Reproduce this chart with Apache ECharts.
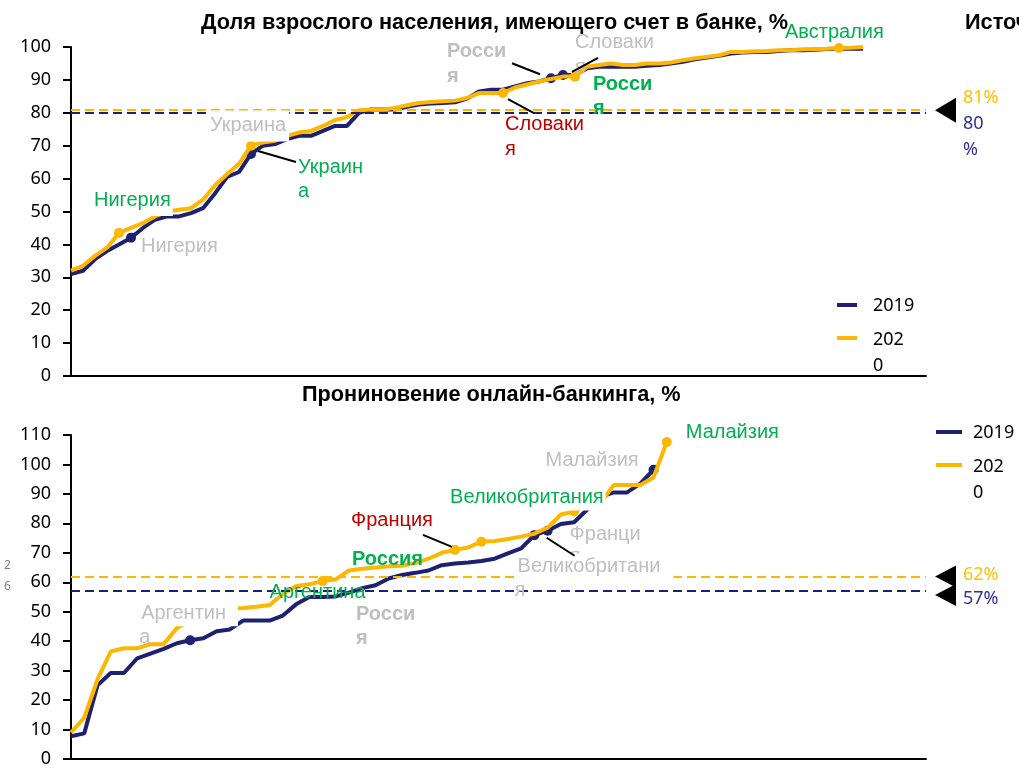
<!DOCTYPE html>
<html>
<head>
<meta charset="utf-8">
<script src="https://cdn.jsdelivr.net/npm/echarts@6/dist/echarts.min.js"></script>
<style>
  html, body { margin: 0; padding: 0; background: #fff; }
  #chart { width: 1019px; height: 768px; }
</style>
</head>
<body>
<div id="chart"></div>
<script>
// доля взрослых со счётом в банке, страны отсортированы по возрастанию
var accounts2019 = [31, 32, 35.5, 38, 40, 42, 45, 47.5, 48.5, 48.5, 49.5, 51, 55.5, 60.5, 62, 67.5,
  70, 70.5, 72, 73, 73, 74.5, 76, 76, 80, 81, 81, 81, 81.8, 82.5, 82.8, 83, 83.2, 84.3, 86.5, 87,
  87, 88, 89, 89.5, 90.5, 91.5, 91.5, 93.5, 94, 94, 94, 94, 94.3, 94.5, 95, 95.5, 96.3, 96.8, 97.3,
  98, 98.3, 98.5, 98.5, 98.8, 99, 99, 99.2, 99.4, 99.5, 99.5, 99.5]
var accounts2020 = [32, 33.5, 36.5, 39, 43.5, 45, 46.5, 48.5, 50, 50.5, 51, 53.6, 58, 61.3, 64.5, 70,
  71, 71.5, 73, 74, 74.5, 76, 77.8, 78.7, 80.8, 81, 81, 81.5, 82.3, 83, 83.3, 83.5, 83.7, 84.5, 86, 86,
  86, 87.7, 88.6, 89.5, 90.3, 91, 91, 94, 94.5, 95, 94.5, 94.5, 95, 95, 95.3, 96, 96.6, 97, 97.5,
  98.5, 98.5, 98.7, 98.8, 99, 99, 99.3, 99.4, 99.5, 99.7, 99.8, 100]
var accountsAvg = { '2019': 80, '2020': 81 }

// проникновение онлайн-банкинга
var online2019 = [7.7, 8.7, 25, 29.2, 29.2, 34.2, 35.8, 37.4, 39.3, 40.3, 41, 43.4, 44, 47, 47, 47,
  48.7, 52.5, 55, 55, 55.2, 56.5, 58, 59, 61.3, 62.5, 63.2, 64, 65.8, 66.4, 66.7, 67.2, 68, 69.8,
  71.5, 76, 77.5, 79.8, 80.4, 84.7, 89, 90.5, 90.5, 93.5, 98.2]
var online2020 = [9, 14, 27, 36.5, 37.6, 37.6, 39, 39, 44.5, 47, 49, 50, 51, 51.3, 51.7, 52.3, 56,
  58.7, 59.3, 60.4, 61, 64, 64.6, 65, 65.4, 65.6, 66.5, 68, 70, 71, 71.8, 73.8, 74, 74.7, 75.5, 76.5,
  78.5, 83, 84, 86.5, 87, 93, 93, 93, 95.6, 107.6]
var onlineAvg = { '2019': 57, '2020': 62 }

// точки, отмеченные кружками (индексы стран)
var accountDots2019 = [5, 15, 40, 41]
var accountDots2020 = [4, 15, 36, 42, 64]
var onlineDots2019 = [9, 35, 36, 44]
var onlineDots2020 = [19, 29, 31, 38, 45]

var NAVY = '#1E2170'
var ORANGE = '#FFB600'
var GREEN = '#00B050'
var GRAY = '#BFBFBF'
var RED = '#C00000'
var TXT_FONT = 'Liberation Sans, Arial, sans-serif'
var NUM_FONT = 'Noto Sans, sans-serif'

var chart = echarts.init(document.getElementById('chart'))

function pairs(arr) {
  return arr.map(function(v, i) { return [i, v] })
}

function lineSeries(name, data, color, g, dots, avg, z) {
  return {
    name: name,
    type: 'line',
    xAxisIndex: g,
    yAxisIndex: g,
    data: pairs(data),
    symbol: 'circle',
    showAllSymbol: true,
    symbolSize: function(val, p) { return dots.indexOf(p.dataIndex) >= 0 ? 10 : 0 },
    itemStyle: { color: color },
    lineStyle: { color: color, width: 4 },
    z: z,
    silent: true,
    animation: false,
    markLine: {
      silent: true,
      symbol: 'none',
      label: { show: false },
      lineStyle: { color: color, type: [9, 5], width: 2 },
      data: [{ yAxis: avg }]
    }
  }
}

function yAx(g, max) {
  return {
    gridIndex: g, type: 'value', min: 0, max: max, interval: 10,
    axisLine: { show: true, lineStyle: { color: '#000', width: 2 } },
    axisTick: { show: true, length: 8, lineStyle: { color: '#000', width: 2 } },
    splitLine: { show: false },
    axisLabel: { color: '#000', fontSize: 18, fontFamily: NUM_FONT, margin: 20 }
  }
}

function xAx(g, max) {
  return {
    gridIndex: g, type: 'value', min: 0, max: max,
    axisLine: { show: true, onZero: false, lineStyle: { color: '#000', width: 2 } },
    axisTick: { show: false }, axisLabel: { show: false }, splitLine: { show: false }
  }
}

var titleStyle = { fontFamily: TXT_FONT, fontWeight: 'bold', fontSize: 21.7, color: '#000' }

chart.setOption({
  backgroundColor: '#fff',
  animation: false,
  title: [
    { text: 'Доля взрослого населения, имеющего счет в банке, %', left: 196, top: 7, textStyle: titleStyle },
    { text: 'Источник', left: 960, top: 7, textStyle: titleStyle },
    { text: 'Прониновение онлайн-банкинга, %', left: 297, top: 379, textStyle: titleStyle }
  ],
  grid: [
    { left: 71, right: 93, top: 47, height: 329 },
    { left: 71, right: 93, top: 435, height: 328 }
  ],
  xAxis: [xAx(0, 71.25), xAx(1, 64.58)],
  yAxis: [yAx(0, 100), yAx(1, 110)],
  series: [
    lineSeries('2019', accounts2019, NAVY, 0, accountDots2019, accountsAvg['2019'], 2),
    lineSeries('2020', accounts2020, ORANGE, 0, accountDots2020, accountsAvg['2020'], 3),
    lineSeries('2019', online2019, NAVY, 1, onlineDots2019, onlineAvg['2019'], 2),
    lineSeries('2020', online2020, ORANGE, 1, onlineDots2020, onlineAvg['2020'], 3)
  ]
})

// подписи стран, привязанные к точкам
var notes = [
  { g: 0, d: accounts2020, i: 4, lines: ['Нигерия'], c: GREEN, dx: -27, dy: -32, bg: [4, 2, 6, 2] },
  { g: 0, d: accounts2019, i: 5, lines: ['Нигерия'], c: GRAY, dx: 10, dy: 9 },
  { g: 0, d: accounts2019, i: 15, lines: ['Украина'], c: GRAY, dx: -43, dy: -28, bg: [3, 3, 8, 2] },
  { g: 0, d: accounts2019, i: 15, lines: ['Украин', 'а'], c: GREEN, dx: 47, dy: 14, lh: 24 },
  { g: 0, d: accounts2019, i: 40, lines: ['Росси', 'я'], c: GRAY, bold: true, dx: -104, dy: -27, lh: 25 },
  { g: 0, d: accounts2019, i: 41, lines: ['Словаки', 'я'], c: GRAY, dx: 12, dy: -32, lh: 25 },
  { g: 0, d: accounts2020, i: 36, lines: ['Словаки', 'я'], c: RED, dx: 2, dy: 31, lh: 25 },
  { g: 0, d: accounts2020, i: 42, lines: ['Росси', 'я'], c: GREEN, bold: true, dx: 18, dy: 8, lh: 24 },
  { g: 0, d: accounts2020, i: 64, lines: ['Австралия'], c: GREEN, dx: -54, dy: -16 },

  { g: 1, d: online2019, i: 9, lines: ['Аргентин', 'а'], c: GRAY, dx: -51, dy: -27, lh: 24, bg: [3, 12, 3, 2] },
  { g: 1, d: online2020, i: 19, lines: ['Аргентина'], c: GREEN, dx: -53, dy: 11 },
  { g: 1, d: online2020, i: 21, lines: ['Россия'], c: GREEN, bold: true, dx: 3, dy: -11 },
  { g: 1, d: online2019, i: 21, lines: ['Росси', 'я'], c: GRAY, bold: true, dx: 7, dy: 22, lh: 24 },
  { g: 1, d: online2020, i: 29, lines: ['Франция'], c: RED, dx: -104, dy: -29 },
  { g: 1, d: online2020, i: 38, lines: ['Великобритания'], c: GREEN, dx: -126, dy: -14, bg: [3, 2, 3, 2] },
  { g: 1, d: online2019, i: 44, lines: ['Малайзия'], c: GRAY, dx: -108, dy: -9 },
  { g: 1, d: online2019, i: 36, lines: ['Франци', 'я'], c: GRAY, dx: 22, dy: 4, lh: 22 },
  { g: 1, d: online2019, i: 36, lines: ['Великобритани', 'я'], c: GRAY, dx: -33, dy: 36, lh: 24, bg: [3, 13, 3, 3] },
  { g: 1, d: online2020, i: 45, lines: ['Малайзия'], c: GREEN, dx: 19, dy: -10 }
]

var leaders = [
  { g: 0, d: accounts2019, i: 15, a: [7, -3], b: [45, 8] },
  { g: 0, d: accounts2019, i: 40, a: [-39, -15], b: [-11, -4] },
  { g: 0, d: accounts2019, i: 41, a: [9, -3], b: [35, -17] },
  { g: 0, d: accounts2020, i: 36, a: [5, 6], b: [31, 20] },
  { g: 1, d: online2020, i: 29, a: [-32, -15], b: [-3, -3] },
  { g: 1, d: online2019, i: 36, a: [-1, 7], b: [27, 25] }
]

function px(g, i, v) {
  return chart.convertToPixel({ gridIndex: g }, [i, v])
}

var graphics = []
var zz = 100
notes.forEach(function(n) {
  var p = px(n.g, n.i, n.d[n.i])
  n.lines.forEach(function(t, k) {
    var st = {
      text: t,
      x: p[0] + n.dx,
      y: p[1] + n.dy + k * (n.lh || 24),
      fill: n.c,
      font: (n.bold ? 'bold ' : '') + '20px ' + TXT_FONT,
      textAlign: 'left',
      textVerticalAlign: 'middle'
    }
    if (n.bg && k === 0) {
      st.backgroundColor = '#fff'
      st.padding = n.bg
    }
    graphics.push({ type: 'text', z: zz++, style: st })
  })
})

leaders.forEach(function(l) {
  var p = px(l.g, l.i, l.d[l.i])
  graphics.push({
    type: 'line', z: 200,
    shape: { x1: p[0] + l.a[0], y1: p[1] + l.a[1], x2: p[0] + l.b[0], y2: p[1] + l.b[1] },
    style: { stroke: '#000', lineWidth: 2 }
  })
})

// чёрные треугольники и подписи средних справа
function avgMarks(g, avg, topLabel, bottomLabel, splitTriangles) {
  var y19 = px(g, 0, avg['2019'])[1]
  var y20 = px(g, 0, avg['2020'])[1]
  var xr = px(g, 0, 0)[0] + 855
  var centers = splitTriangles ? [y20, y19 + 4] : [(y19 + y20) / 2 - 1]
  centers.forEach(function(c) {
    var h = splitTriangles ? 11 : 12.5
    graphics.push({
      type: 'polygon', z: 150,
      shape: { points: [[xr + 9, c], [xr + 30, c - h], [xr + 30, c + h]] },
      style: { fill: '#000' }
    })
  })
  graphics.push({ type: 'text', z: 150, style: { text: topLabel, x: xr + 37, y: y20 - (splitTriangles ? 2 : 12), fill: '#FFC000', font: '18px ' + NUM_FONT, textVerticalAlign: 'middle' } })
  bottomLabel.forEach(function(t, k) {
    graphics.push({ type: 'text', z: 150, style: { text: t, x: xr + 37, y: y19 + (splitTriangles ? 8 : 11) + k * 26, fill: '#2E3192', font: '18px ' + NUM_FONT, textVerticalAlign: 'middle' } })
  })
}
avgMarks(0, accountsAvg, accountsAvg['2020'] + '%', [accountsAvg['2019'] + '', '%'], false)
avgMarks(1, onlineAvg, onlineAvg['2020'] + '%', [onlineAvg['2019'] + '%'], true)

// легенды
function legend(x, y, w) {
  var tx = x + w + 11 + (w > 22 ? 0 : 5)
  graphics.push({ type: 'rect', z: 150, shape: { x: x, y: y - 2, width: w, height: 4 }, style: { fill: NAVY } })
  graphics.push({ type: 'text', z: 150, style: { text: '2019', x: tx, y: y + 1, fill: '#000', font: '18px ' + NUM_FONT, textVerticalAlign: 'middle' } })
  graphics.push({ type: 'rect', z: 150, shape: { x: x, y: y + 31, width: w, height: 4 }, style: { fill: ORANGE } })
  graphics.push({ type: 'text', z: 150, style: { text: '202', x: tx, y: y + 35, fill: '#000', font: '18px ' + NUM_FONT, textVerticalAlign: 'middle' } })
  graphics.push({ type: 'text', z: 150, style: { text: '0', x: tx, y: y + 61, fill: '#000', font: '18px ' + NUM_FONT, textVerticalAlign: 'middle' } })
}
legend(837, 305, 20)
legend(936, 432, 26)

// номер страницы слева
graphics.push({ type: 'text', z: 150, style: { text: '2', x: 4, y: 566, fill: '#7F7F7F', font: '12px ' + NUM_FONT, textVerticalAlign: 'middle' } })
graphics.push({ type: 'text', z: 150, style: { text: '6', x: 4, y: 587, fill: '#7F7F7F', font: '12px ' + NUM_FONT, textVerticalAlign: 'middle' } })

chart.setOption({ graphic: graphics })
</script>
</body>
</html>
